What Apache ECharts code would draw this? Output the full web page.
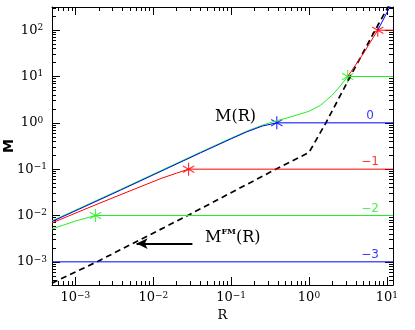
<!DOCTYPE html>
<html>
<head>
<meta charset="utf-8">
<script src="https://cdn.jsdelivr.net/npm/echarts@6/dist/echarts.min.js"></script>
<style>
  html, body { margin: 0; padding: 0; background: #fff; }
  #chart { width: 415px; height: 330px; }
</style>
</head>
<body>
<div id="chart"></div>
<script>
// axis ranges and tick marks (R and M are plotted on log10 scales)
const xRange = [5e-4, 12];
const yRange = [3.1623e-4, 316.23];
const xMajor = [1e-3, 1e-2, 0.1, 1, 10];
const yMajor = [1e-3, 1e-2, 0.1, 1, 10, 100];
const xMinor = [6e-4, 7e-4, 8e-4, 9e-4, 2e-3, 3e-3, 4e-3, 5e-3, 6e-3, 7e-3, 8e-3, 9e-3,
  0.02, 0.03, 0.04, 0.05, 0.06, 0.07, 0.08, 0.09, 0.2, 0.3, 0.4, 0.5, 0.6, 0.7, 0.8, 0.9,
  2, 3, 4, 5, 6, 7, 8, 9];
const yMinor = [4e-4, 5e-4, 6e-4, 7e-4, 8e-4, 9e-4, 2e-3, 3e-3, 4e-3, 5e-3, 6e-3, 7e-3, 8e-3, 9e-3,
  0.02, 0.03, 0.04, 0.05, 0.06, 0.07, 0.08, 0.09, 0.2, 0.3, 0.4, 0.5, 0.6, 0.7, 0.8, 0.9,
  2, 3, 4, 5, 6, 7, 8, 9, 20, 30, 40, 50, 60, 70, 80, 90, 200, 300];

// M(R) tracks, [R, M], one per final mass 10^k (only the visible parts of 10^2 and 10^3)
const track3 = [[7.64, 100], [12, 427]];
const track2 = [[3.14, 10], [5.01, 31.6], [7.64, 100], [12, 100]];
const track1 = [[5e-4, 7.67e-3], [3.79e-3, 0.0365], [0.0406, 0.234], [0.1, 0.468], [0.1585, 0.661],
  [0.2512, 0.891], [0.386, 1.109], [0.631, 1.396], [1.0, 1.778], [1.413, 2.399], [1.995, 3.981],
  [2.512, 6.166], [3.14, 10], [12, 10]];
const track0 = [[5e-4, 7.4e-3], [3.79e-3, 0.0352], [0.0406, 0.226], [0.1, 0.452], [0.1585, 0.638],
  [0.2512, 0.851], [0.386, 1.0], [12, 1.0]];
const trackM1 = [[5e-4, 6.92e-3], [1.585e-3, 0.0155], [5.01e-3, 0.0339], [0.0126, 0.0631],
  [0.01995, 0.0822], [0.0284, 0.1], [12, 0.1]];
const trackM2 = [[5e-4, 5.13e-3], [1e-3, 7.59e-3], [1.41e-3, 8.91e-3], [1.81e-3, 0.01], [12, 0.01]];
const trackM3 = [[5e-4, 1e-3], [12, 1e-3]];

// end points of the tracks (stars)
const stars = [[1.81e-3, 0.01], [0.0284, 0.1], [0.386, 1.0], [3.14, 10], [7.64, 100]];
const starColors = ['green', 'red', 'blue', 'green', 'red'];

// M^FM(R), dashed
const fmCurve = [[5e-4, 3.47e-4], [1.88e-3, 1e-3], [0.0277, 0.01], [0.375, 0.1], [1.0, 0.229],
  [1.65, 1.0], [3.39, 10], [7.08, 100], [11.2, 398]];

// level labels on the flat parts
const levelText = ['0', '\u22121', '\u22122', '\u22123'];
const levelM = [1, 0.1, 0.01, 1e-3];
const levelColors = ['blue', 'red', 'green', 'blue'];
const levelR = 6.08;

// arrow pointing at the dashed curve
const arrowFrom = [0.0318, 2.48e-3];
const arrowTo = [0.0061, 2.48e-3];

const COL = { blue: '#0000ff', green: '#22ee22', red: '#ff0000' };
const SERIF = '"DejaVu Serif", serif';
const STAR = 'path://M6,0L6,12M0.8,3L11.2,9M0.8,9L11.2,3';

const lg = (v) => Math.log10(v);
const lgPts = (arr) => arr.map((p) => [lg(p[0]), lg(p[1])]);

function powLabel(v) {
  const e = Math.round(v);
  return '{b|10}{s|' + (e < 0 ? '\u2212' + (-e) : e) + '}';
}
const powRich = {
  b: { fontSize: 13, fontFamily: SERIF, lineHeight: 14, color: '#000' },
  s: { fontSize: 9, fontFamily: SERIF, lineHeight: 9, verticalAlign: 'top', color: '#000' }
};

function axis(range, pos, len, ticks, labels) {
  const a = {
    type: 'value', min: lg(range[0]), max: lg(range[1]), position: pos,
    axisLine: { show: len > 5, onZero: false, lineStyle: { color: '#000', width: 1 } },
    axisTick: {
      show: true, inside: true, length: len, customValues: ticks.map(lg),
      lineStyle: { color: '#000', width: 1 }
    },
    axisLabel: { show: false },
    splitLine: { show: false },
    silent: true
  };
  if (labels) {
    a.axisLabel = { show: true, formatter: powLabel, rich: powRich, customValues: labels.map(lg) };
  }
  return a;
}

const xMain = axis(xRange, 'bottom', 8, xMajor, xMajor);
xMain.axisLabel.margin = 6;
xMain.name = 'R';
xMain.nameLocation = 'middle';
xMain.nameGap = 24;
xMain.nameMoveOverlap = false;
xMain.nameTextStyle = { fontSize: 13, fontFamily: SERIF, color: '#000' };

const yMain = axis(yRange, 'left', 8, yMajor, yMajor);
yMain.axisLabel.margin = 20;
yMain.axisLabel.align = 'center';
yMain.name = 'M';
yMain.nameLocation = 'middle';
yMain.nameGap = 36;
yMain.nameMoveOverlap = false;
yMain.nameTextStyle = { fontSize: 14, fontWeight: 'bold', fontFamily: '"DejaVu Sans"', color: '#000' };

function track(data, c) {
  return {
    type: 'line', data: lgPts(data), showSymbol: false, symbol: 'none', silent: true,
    lineStyle: { color: COL[c], width: 1 }, itemStyle: { color: COL[c] }
  };
}

const chart = echarts.init(document.getElementById('chart'));
chart.setOption({
  animation: false,
  grid: { left: 52, right: 22, top: 7, bottom: 45, outerBoundsMode: 'none', containLabel: false },
  xAxis: [
    xMain,
    axis(xRange, 'bottom', 4, xMinor),
    axis(xRange, 'top', 8, xMajor),
    axis(xRange, 'top', 4, xMinor)
  ],
  yAxis: [
    yMain,
    axis(yRange, 'left', 4, yMinor),
    axis(yRange, 'right', 8, yMajor),
    axis(yRange, 'right', 4, yMinor)
  ],
  graphic: [
    { type: 'text', left: 215, top: 109, silent: true,
      style: { text: 'M(R)', font: '16px "DejaVu Serif"', fill: '#000' } },
    { type: 'text', left: 205, top: 228, silent: true,
      style: {
        text: '{m|M}{s|FM}{m|(R)}', fill: '#000',
        rich: {
          m: { fontSize: 16, fontFamily: SERIF, lineHeight: 19 },
          s: { fontSize: 8, fontFamily: SERIF, fontWeight: 'bold', lineHeight: 12, verticalAlign: 'top' }
        }
      } }
  ],
  series: [
    {
      type: 'line', data: lgPts(fmCurve), showSymbol: false, symbol: 'none', silent: true,
      lineStyle: { color: '#000', width: 1.7, type: [6, 4] },
      markLine: {
        silent: true, symbol: ['none', 'arrow'], symbolSize: [8, 11],
        lineStyle: { color: '#000', width: 2, type: 'solid' },
        label: { show: false },
        data: [[{ coord: [lg(arrowFrom[0]), lg(arrowFrom[1])] }, { coord: [lg(arrowTo[0]), lg(arrowTo[1])] }]]
      }
    },
    track(track3, 'blue'),
    track(track2, 'red'),
    track(track1, 'green'),
    track(track0, 'blue'),
    track(trackM1, 'red'),
    track(trackM2, 'green'),
    track(trackM3, 'blue'),
    {
      type: 'scatter', silent: true, symbol: STAR, symbolSize: 13, symbolKeepAspect: true,
      data: stars.map((p, i) => ({
        value: [lg(p[0]), lg(p[1])],
        itemStyle: { color: 'none', borderColor: COL[starColors[i]], borderWidth: 1.2 }
      }))
    },
    {
      type: 'scatter', silent: true, symbolSize: 0,
      data: levelM.map((m, i) => ({
        value: [lg(levelR), lg(m)],
        label: {
          show: true, position: 'top', distance: 1, formatter: levelText[i],
          color: COL[levelColors[i]], fontSize: 12, fontFamily: '"DejaVu Sans"'
        }
      }))
    }
  ]
});
</script>
</body>
</html>
